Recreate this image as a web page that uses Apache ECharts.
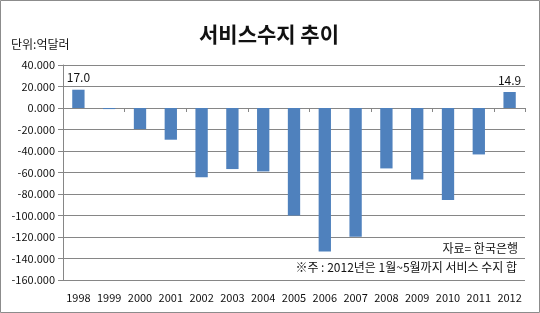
<!DOCTYPE html>
<html><head><meta charset="utf-8">
<script src="https://cdn.jsdelivr.net/npm/echarts@6/dist/echarts.min.js"></script>
<style>html,body{margin:0;padding:0;background:#fff}#c{width:540px;height:313px}</style>
</head><body><div id="c"></div>
<script>
const categories = ['1998','1999','2000','2001','2002','2003','2004','2005','2006','2007','2008','2009','2010','2011','2012'];
const values = [17.0, -1.0, -19.6, -29.5, -64.5, -56.8, -59.0, -100.0, -133.4, -119.7, -56.2, -66.4, -85.6, -43.2, 14.9];
const labeledYears = ['1998','2012'];
const yTicks = [40, 20, 0, -20, -40, -60, -80, -100, -120, -140, -160];
const titleText = '서비스수지 추이';
const unitText = '단위:억달러';
const sourceText = '자료= 한국은행';
const noteText = '※주 : 2012년은 1월~5월까지 서비스 수지 합';

const font = '"Noto Sans CJK KR", "Noto Sans", sans-serif';
const chart = echarts.init(document.getElementById('c'));
chart.setOption({
  animation: false,
  backgroundColor: '#fff',
  title: {
    text: titleText, left: 264, top: 19, textAlign: 'center',
    textStyle: {fontFamily: font, fontSize: 21, fontWeight: 'bold', color: '#111'}
  },
  graphic: [
    {type: 'rect', shape: {x: 0.5, y: 0.5, width: 539, height: 312}, style: {fill: 'none', stroke: '#8c8c8c', lineWidth: 1}, silent: true},
    {type: 'text', left: 11, top: 38, style: {text: unitText, font: '12px ' + font, fill: '#111'}},
    {type: 'text', right: 22, top: 242, style: {text: sourceText, font: '12px ' + font, fill: '#111'}},
    {type: 'text', right: 23, top: 261, style: {text: noteText, font: '12px ' + font, fill: '#111'}}
  ],
  grid: {left: 63, right: 15, top: 65, bottom: 33, containLabel: false},
  xAxis: [
    {
      type: 'category', data: categories, position: 'bottom',
      axisLine: {onZero: true, lineStyle: {color: '#868686'}},
      axisTick: {show: true, length: 4, lineStyle: {color: '#868686'}},
      axisLabel: {show: false}
    },
    {
      type: 'category', data: categories, position: 'bottom',
      axisLine: {show: false, onZero: false},
      axisTick: {show: false},
      axisLabel: {show: true, fontFamily: font, fontSize: 11, color: '#111', margin: 12, interval: 0}
    }
  ],
  yAxis: {
    type: 'value', min: yTicks[yTicks.length - 1], max: yTicks[0], interval: 20,
    axisLine: {show: true, lineStyle: {color: '#868686'}},
    axisTick: {show: true, length: 5, lineStyle: {color: '#868686'}},
    axisLabel: {fontFamily: font, fontSize: 11, color: '#111', margin: 8, formatter: v => v.toFixed(3)},
    splitLine: {show: true, lineStyle: {color: '#868686', width: 1}}
  },
  series: [{
    type: 'bar', xAxisIndex: 0,
    data: values.map((v, i) => ({
      value: v,
      label: {show: labeledYears.includes(categories[i]), position: 'top', distance: 6,
        formatter: p => p.value.toFixed(1), fontFamily: font, fontSize: 12, color: '#111'}
    })),
    barWidth: '40%',
    itemStyle: {color: '#4F81BD'}
  }]
});
</script></body></html>
